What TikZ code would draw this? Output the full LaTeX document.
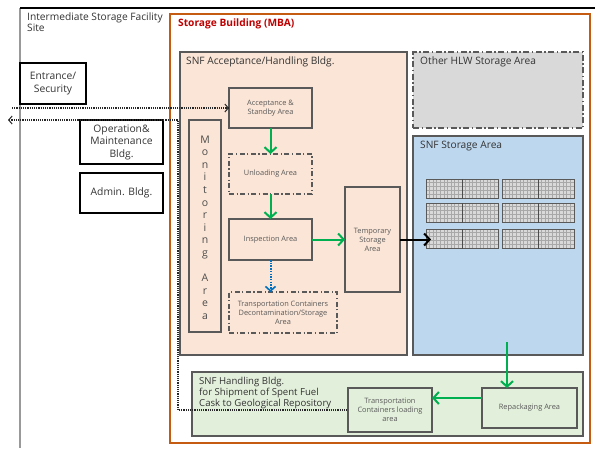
\documentclass[tikz,border=0pt]{standalone}
\usepackage{fontspec}
\setmainfont{Open Sans}
\usetikzlibrary{arrows.meta,calc}
\definecolor{mbaor}{HTML}{C55A11}
\definecolor{mbared}{HTML}{C00000}
\definecolor{peach}{HTML}{FBE5D6}
\definecolor{hlwgray}{HTML}{D9D9D9}
\definecolor{snfblue}{HTML}{BDD7EE}
\definecolor{hgreen}{HTML}{E2EFDA}
\definecolor{arrgreen}{HTML}{00B050}
\definecolor{arrblue}{HTML}{0070C0}
\definecolor{edge}{HTML}{595959}
\tikzset{
  corner/.style={anchor=north west, inner sep=0pt, outer sep=0pt},
  area/.style={corner, draw=edge, line width=1.2pt, align=center, text=black!65,
     font=\fontsize{7.4}{9}\selectfont},
  dashdotarea/.style={area, dash pattern=on 5pt off 2.5pt on 1.2pt off 2.5pt},
  sitebox/.style={corner, draw=black, line width=2.4pt, align=center, text=black!80,
     font=\fontsize{10.3}{12.5}\selectfont},
  bldg/.style={corner, draw=edge, line width=1.2pt},
  lbl/.style={anchor=north west, inner sep=0pt, align=left, text=black!80,
     font=\fontsize{10.2}{11.5}\selectfont},
  greenarr/.style={draw=arrgreen, line width=2pt, -{Straight Barb[length=5.5pt,width=12pt,line width=2pt]}},
  blackarr/.style={draw=black, line width=2pt, -{Straight Barb[length=5.5pt,width=12pt,line width=2pt]}},
  bluearr/.style={draw=arrblue, line width=2pt, dash pattern=on 1.5pt off 1.2pt, -{Straight Barb[length=4.5pt,width=10pt,line width=1.6pt]}},
  route/.style={draw=black!85, line width=1.2pt, dash pattern=on 1.2pt off 1pt}
}
\begin{document}
\begin{tikzpicture}[x=1pt,y=-1pt]
\useasboundingbox (0,0) rectangle (595,448);
\fill[white] (0,0) rectangle (595,448);
% site frame
\draw[gray!80, line width=1.4pt] (20,448) -- (20,8);
\draw[black, line width=1.1pt] (20,8) -- (595,8);
\node[lbl] (sitelbl) at (27,12.5) {Intermediate Storage Facility\\Site};
% storage building
\node[corner, draw=mbaor, line width=2.6pt, minimum width=420pt, minimum height=429pt] (mba) at (170,14) {};
\node[lbl, text=mbared, font=\bfseries\fontsize{10.2}{11}\selectfont] (mbalbl) at (178,18.5) {Storage Building (MBA)};
% buildings / areas
\node[bldg, fill=peach, minimum width=227pt, minimum height=303pt] (snfa) at (180,52) {};
\node[lbl] (snfalbl) at (186,56.5) {SNF Acceptance/Handling Bldg.};
\node[bldg, fill=hlwgray, draw=gray!70!black, dash pattern=on 6pt off 2.5pt on 1.5pt off 2.5pt, minimum width=170pt, minimum height=76pt] (hlw) at (413,52) {};
\node[lbl] (hlwlbl) at (420,56.5) {Other HLW Storage Area};
\node[bldg, fill=snfblue, minimum width=170pt, minimum height=219pt] (snfs) at (413,136) {};
\node[lbl] (snfslbl) at (420,141) {SNF Storage Area};
% storage arrays
\foreach \bx/\by in {426/179, 502/179, 426/203, 502/203, 426/229, 502/229}{
  \fill[gray!30] (\bx,\by) rectangle ++(72,19.5);
  \foreach \i in {1,...,19} \draw[gray!68, line width=1pt] (\bx+\i*3.6,\by) -- ++(0,19.5);
  \foreach \j in {1,...,4} \draw[gray!68, line width=1pt] (\bx,\by+\j*3.9) -- ++(72,0);
  \draw[gray!70!black, line width=0.8pt] (\bx,\by) rectangle ++(72,19.5);
  \draw[black!70, line width=1pt] (\bx+36,\by) -- ++(0,19.5);
}
% green handling bldg
\node[bldg, fill=hgreen, minimum width=391pt, minimum height=64pt] (hand) at (192,372) {};
\node[lbl, font=\fontsize{9.6}{11}\selectfont] (handlbl) at (199,376.5) {SNF Handling Bldg.\\for Shipment of Spent Fuel\\Cask to Geological Repository};
% inner areas
\node[area, minimum width=83pt, minimum height=40pt] (accept) at (229,88) {Acceptance \&\\Standby Area};
\node[dashdotarea, minimum width=83pt, minimum height=40pt] (unload) at (229,154) {Unloading Area};
\node[area, minimum width=83pt, minimum height=41pt] (insp) at (229,219) {Inspection Area};
\node[area, minimum width=55pt, minimum height=105pt] (temp) at (345,187) {Temporary\\Storage\\Area};
\node[dashdotarea, minimum width=108pt, minimum height=41pt] (decon) at (229,292) {Transportation Containers\\Decontamination/Storage\\Area};
\node[area, minimum width=32pt, minimum height=212pt] (monit) at (189,120) {};
\node[inner sep=0pt, align=center, text=black!70, font=\fontsize{10.5}{12.6}\selectfont] (monitxt) at (205,227.5) {M\\o\\n\\i\\t\\o\\r\\i\\n\\g\\[12.6pt]A\\r\\e\\a};
\node[area, minimum width=84pt, minimum height=44pt] (load) at (348,388) {Transportation\\Containers loading\\area};
\node[area, minimum width=95pt, minimum height=40pt] (repack) at (482,388) {Repackaging Area};
% site buildings
\node[sitebox, minimum width=66pt, minimum height=41pt] (entr) at (20,63) {Entrance/\\Security};
\node[sitebox, minimum width=83pt, minimum height=44pt] (om) at (80,120) {Operation\&\\Maintenance\\Bldg.};
\node[sitebox, minimum width=83pt, minimum height=40pt] (admin) at (80,173) {Admin. Bldg.};
% flow arrows
\draw[greenarr] (accept.south) -- (unload.north);
\draw[greenarr] (unload.south) -- (insp.north);
\draw[greenarr] (insp.east) -- (insp.east -| temp.west);
\coordinate (gridin) at (431,239.5);
\draw[blackarr] (temp.east |- insp.east) -- (gridin);
\draw[bluearr] (insp.south) -- (insp.south |- decon.north);
\coordinate (sout) at (507,342);
\draw[greenarr] (sout) -- (sout |- repack.north);
\draw[greenarr] ([yshift=10pt]repack.west) -- ([yshift=10pt]repack.west -| load.east);
% routes
\coordinate (inA) at (12,108);
\draw[route, -{Straight Barb[length=3.5pt,width=8pt,line width=1pt]}] (inA) -- (inA -| accept.west);
\coordinate (outA) at (8,120);
\coordinate (ob1) at (178,120);
\coordinate (ob2) at (178,410);
\draw[route, {Straight Barb[length=3.5pt,width=8pt,line width=1pt]}-] (outA) -- (ob1) -- (ob2) -- (ob2 -| load.west);
\end{tikzpicture}
\end{document}
